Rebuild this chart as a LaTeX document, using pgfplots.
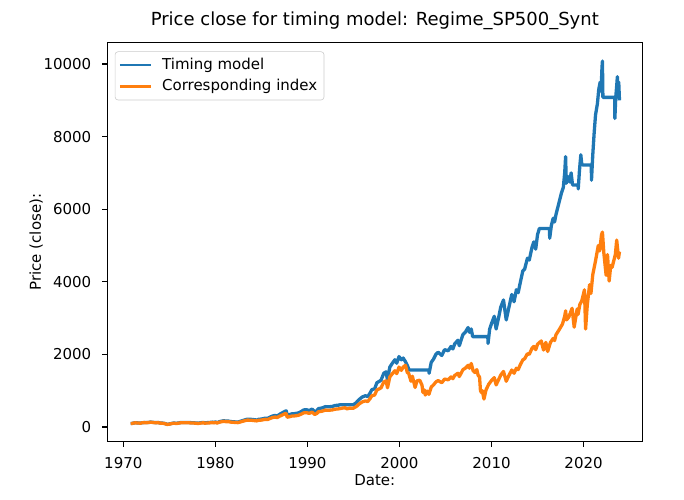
\documentclass[border=0pt]{standalone}
\usepackage{fontspec}
\setmainfont{DejaVu Sans}
\usepackage{pgfplots}
\pgfplotsset{compat=1.18}
\definecolor{mplblue}{HTML}{1F77B4}
\definecolor{mplorange}{HTML}{FF7F0E}
\begin{document}
\begin{tikzpicture}
\begin{axis}[
  at={(0,0)}, anchor=south west,
  scale only axis, width=356.67pt, height=266pt,
  xmin=1968.26, xmax=2026.38, ymin=-405, ymax=10587,
  xtick={1970,1980,1990,2000,2010,2020},
  ytick={0,2000,4000,6000,8000,10000},
  scaled ticks=false,
  /pgf/number format/.cd, 1000 sep={}, assume math mode=true, /pgfplots/.cd,
  tick pos=left, tick align=outside,
  major tick length=3.5pt,
  every tick/.style={black, line width=0.8pt},
  axis line style={line width=0.8pt},
  xticklabel style={anchor=north, inner sep=0pt, yshift=-7pt, font=\fontsize{10}{12}\selectfont},
  yticklabel style={anchor=east, inner sep=0pt, xshift=-7pt, font=\fontsize{10}{12}\selectfont},
  title={Price close for timing model: Regime\_SP500\_Synt},
  title style={at={(axis description cs:0.5,1)}, anchor=base, yshift=5.2pt, inner sep=0pt, font=\fontsize{12}{14}\selectfont},
  xlabel={Date:},
  xlabel style={at={(axis description cs:0.5,0)}, anchor=base, yshift=-29.5pt, inner sep=0pt, font=\fontsize{10}{12}\selectfont},
  ylabel={Price (close):},
  ylabel style={at={([xshift=-44.2pt]axis description cs:0,0.5)}, rotate=0, anchor=base, inner sep=0pt, font=\fontsize{10}{12}\selectfont},
  legend style={at={(0,1)}, anchor=north west, xshift=5pt, yshift=-5.8pt,
    draw=black!20, rounded corners=2pt, fill=white, fill opacity=0.8, text opacity=1,
    inner xsep=2.5pt, inner ysep=2.5pt, row sep=1pt,
    font=\fontsize{10}{12}\selectfont,
    nodes={inner sep=2pt}},
  legend cell align=left,
  legend image code/.code={\draw[#1, line width=1.5pt] (0pt,0pt) -- (21pt,0pt); \path (25pt,0pt);},
]
\addplot[mplblue, line width=2.2pt, line join=round] coordinates {
(1970.80,95) (1970.95,99) (1971.10,108) (1971.30,117) (1971.45,114) (1971.60,112) (1971.85,106)
(1972.00,116) (1972.25,123) (1972.50,122) (1972.75,126) (1972.95,136) (1973.10,132) (1973.35,124)
(1973.55,120) (1973.80,125) (1973.95,112) (1974.20,109) (1974.50,98) (1974.65,84) (1974.75,74)
(1974.95,80) (1975.20,95) (1975.50,112) (1975.70,102) (1975.95,108) (1976.20,121) (1976.50,124)
(1976.75,126) (1977.00,126) (1977.30,120) (1977.60,118) (1977.90,110) (1978.15,105) (1978.40,117)
(1978.70,126) (1978.85,113) (1979.10,120) (1979.40,125) (1979.70,134) (1979.85,125) (1980.00,138)
(1980.20,121) (1980.50,150) (1980.90,173) (1981.10,163) (1981.40,164) (1981.70,149) (1982.00,143)
(1982.45,134) (1982.70,154) (1982.95,175) (1983.30,203) (1983.50,215) (1983.80,211) (1984.00,208)
(1984.50,192) (1984.70,212) (1985.00,218) (1985.40,242) (1985.70,240) (1985.95,272) (1986.20,302)
(1986.50,320) (1986.70,302) (1987.00,352) (1987.30,395) (1987.60,437) (1987.70,443) (1987.80,325)
(1988.00,338) (1988.30,362) (1988.60,368) (1989.00,386) (1989.30,422) (1989.60,470) (1989.90,476)
(1990.20,452) (1990.50,494) (1990.80,416) (1991.00,446) (1991.20,506) (1991.60,525) (1991.95,561)
(1992.30,555) (1992.70,567) (1993.00,591) (1993.40,603) (1993.60,615) (1995.00,615) (1995.30,670)
(1995.60,753) (1995.95,825) (1996.30,861) (1996.55,837) (1996.80,933) (1997.00,1028) (1997.30,1052)
(1997.55,1220) (1997.80,1256) (1998.00,1291) (1998.30,1483) (1998.55,1519) (1998.70,1291)
(1998.95,1650) (1999.20,1746) (1999.50,1853) (1999.70,1758) (1999.95,1940) (2000.20,1850)
(2000.40,1900) (2000.65,1800) (2000.85,1700) (2001.05,1570) (2003.20,1570) (2003.22,1480)
(2003.45,1780) (2003.70,1870) (2003.95,2000) (2004.20,2060) (2004.60,1970) (2004.90,2130)
(2005.30,2100) (2005.60,2220) (2005.80,2150) (2006.00,2290) (2006.35,2390) (2006.50,2240)
(2006.90,2550) (2007.15,2610) (2007.45,2740) (2007.60,2610) (2007.80,2700) (2007.95,2490)
(2009.60,2490) (2009.62,2300) (2009.80,2700) (2010.00,2850) (2010.30,3050) (2010.50,2700)
(2010.80,3050) (2011.00,3300) (2011.30,3500) (2011.60,2950) (2011.85,3250) (2012.20,3650)
(2012.45,3450) (2012.70,3780) (2012.90,3700) (2013.10,3950) (2013.40,4300) (2013.60,4350)
(2013.90,4650) (2014.10,4600) (2014.40,4950) (2014.60,5100) (2014.80,4900) (2015.00,5300)
(2015.20,5470) (2016.30,5470) (2016.32,5200) (2016.50,5550) (2016.70,5750) (2016.85,5650)
(2017.00,5850) (2017.30,6150) (2017.60,6450) (2017.80,6600) (2017.95,7000) (2018.05,7450)
(2018.12,6713) (2018.30,6900) (2018.50,6750) (2018.65,7000) (2018.80,6667) (2019.40,6667)
(2019.42,6560) (2019.55,7050) (2019.70,7500) (2019.80,7250) (2019.88,7220) (2020.84,7220)
(2020.86,6800) (2021.00,7500) (2021.15,8100) (2021.30,8600) (2021.50,8900) (2021.65,9300)
(2021.80,9500) (2021.90,9250) (2022.00,9900) (2022.05,10080) (2022.10,9080) (2023.38,9080)
(2023.40,8500) (2023.50,9100) (2023.60,9400) (2023.67,9650) (2023.75,9100) (2023.82,9500)
(2023.90,9000)
};
\addlegendentry{Timing model}
\addplot[mplorange, line width=2.2pt, line join=round] coordinates {
(1970.80,94) (1970.95,98) (1971.10,107) (1971.30,115) (1971.45,112) (1971.60,110) (1971.85,104)
(1972.00,114) (1972.25,120) (1972.50,119) (1972.75,123) (1972.95,132) (1973.10,128) (1973.35,120)
(1973.55,116) (1973.80,121) (1973.95,108) (1974.20,105) (1974.50,94) (1974.65,80) (1974.75,70)
(1974.95,76) (1975.20,90) (1975.50,106) (1975.70,96) (1975.95,102) (1976.20,114) (1976.50,116)
(1976.75,118) (1977.00,118) (1977.30,112) (1977.60,110) (1977.90,102) (1978.15,97) (1978.40,108)
(1978.70,116) (1978.85,104) (1979.10,110) (1979.40,114) (1979.70,122) (1979.85,114) (1980.00,126)
(1980.20,110) (1980.50,136) (1980.90,157) (1981.10,148) (1981.40,148) (1981.70,134) (1982.00,128)
(1982.45,120) (1982.70,138) (1982.95,156) (1983.30,180) (1983.50,190) (1983.80,186) (1984.00,183)
(1984.50,168) (1984.70,186) (1985.00,190) (1985.40,210) (1985.70,208) (1985.95,235) (1986.20,260)
(1986.50,274) (1986.70,258) (1987.00,300) (1987.30,335) (1987.60,370) (1987.70,375) (1987.80,270)
(1988.00,280) (1988.30,300) (1988.60,305) (1989.00,320) (1989.30,350) (1989.60,390) (1989.90,395)
(1990.20,375) (1990.50,410) (1990.80,345) (1991.00,370) (1991.20,420) (1991.60,435) (1991.95,465)
(1992.30,460) (1992.70,470) (1993.00,490) (1993.40,500) (1993.80,520) (1994.10,530) (1994.30,500)
(1994.60,520) (1994.95,515) (1995.30,560) (1995.60,630) (1995.95,690) (1996.30,720) (1996.55,700)
(1996.80,780) (1997.00,860) (1997.30,880) (1997.55,1020) (1997.80,1050) (1998.00,1080)
(1998.30,1240) (1998.55,1270) (1998.70,1080) (1998.95,1380) (1999.20,1460) (1999.50,1550)
(1999.70,1470) (1999.95,1650) (2000.20,1560) (2000.40,1650) (2000.65,1700) (2000.85,1500)
(2001.00,1480) (2001.25,1260) (2001.40,1400) (2001.70,1090) (2001.90,1270) (2002.20,1290)
(2002.45,1150) (2002.55,950) (2002.70,1020) (2002.80,880) (2003.00,990) (2003.20,900)
(2003.45,1100) (2003.70,1160) (2003.95,1240) (2004.20,1280) (2004.60,1220) (2004.90,1320)
(2005.30,1300) (2005.60,1380) (2005.80,1330) (2006.00,1420) (2006.35,1480) (2006.50,1390)
(2006.90,1580) (2007.15,1620) (2007.45,1700) (2007.60,1620) (2007.80,1750) (2008.00,1550)
(2008.20,1500) (2008.40,1580) (2008.55,1420) (2008.70,1380) (2008.80,1000) (2008.90,950)
(2009.00,1000) (2009.18,770) (2009.40,1020) (2009.70,1180) (2010.00,1280) (2010.30,1360)
(2010.50,1160) (2010.80,1320) (2011.00,1430) (2011.30,1530) (2011.60,1260) (2011.85,1400)
(2012.20,1570) (2012.45,1480) (2012.70,1620) (2012.90,1580) (2013.10,1700) (2013.40,1850)
(2013.60,1880) (2013.90,2020) (2014.10,2000) (2014.40,2170) (2014.60,2220) (2014.80,2130)
(2015.00,2280) (2015.40,2370) (2015.65,2120) (2015.90,2330) (2016.10,2080) (2016.40,2330)
(2016.70,2440) (2016.85,2380) (2017.00,2540) (2017.30,2660) (2017.70,2830) (2017.95,3050)
(2018.05,3200) (2018.15,2950) (2018.40,3030) (2018.75,3270) (2018.98,2750) (2019.30,3250)
(2019.40,3100) (2019.60,3380) (2019.80,3470) (2020.10,3780) (2020.22,2700) (2020.40,3350)
(2020.65,3920) (2020.80,3680) (2021.00,4200) (2021.30,4580) (2021.60,5000) (2021.75,4850)
(2021.95,5300) (2022.05,5370) (2022.20,4800) (2022.45,4180) (2022.60,4750) (2022.78,4020)
(2022.95,4450) (2023.10,4400) (2023.25,4550) (2023.45,4750) (2023.60,5150) (2023.80,4650)
(2023.90,4830)
};
\addlegendentry{Corresponding index}
\end{axis}
\pgfresetboundingbox
\useasboundingbox (-71.53pt,-38.87pt) rectangle (384.47pt,294.47pt);
\end{tikzpicture}
\end{document}
